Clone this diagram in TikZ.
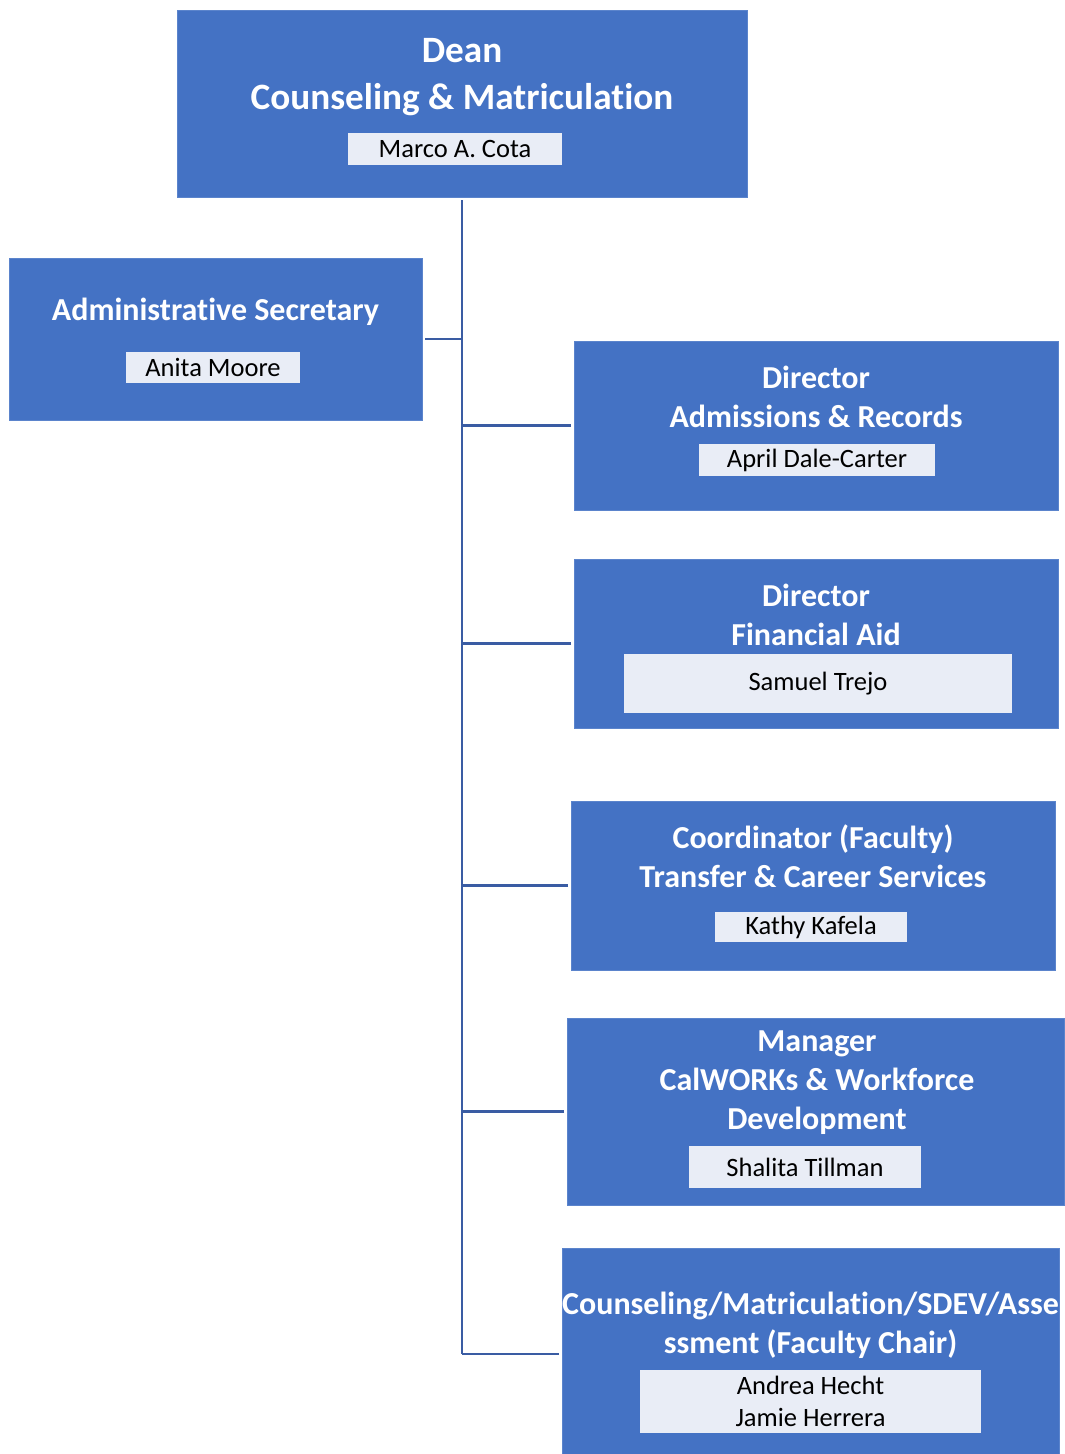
\documentclass[tikz,border=0pt]{standalone}
\usepackage{fontspec}
\setmainfont{Carlito}[Ligatures={NoCommon}]
\definecolor{boxblue}{HTML}{4472C4}
\definecolor{boxedge}{HTML}{5B84CC}
\definecolor{namefill}{HTML}{E9EDF6}
\definecolor{linkblue}{HTML}{3A5CA3}
\begin{document}
\begin{tikzpicture}[x=1pt,y=-1pt,
  box/.style={draw=boxedge, line width=1pt, fill=boxblue, inner sep=0pt, outer sep=0pt},
  title/.style={text=white, font=\bfseries\fontsize{32}{39}\selectfont, align=center, inner sep=0pt},
  bigtitle/.style={text=white, font=\bfseries\fontsize{37.2}{47}\selectfont, align=center, inner sep=0pt},
  namebox/.style={fill=namefill, draw=none, inner sep=0pt, font=\fontsize{26.5}{32}\selectfont, align=center, text=black},
  conn/.style={draw=linkblue, line width=2.6pt}]
\useasboundingbox[fill=white] (0,0) rectangle (1065,1454);
% boxes
\node[box, minimum width=570pt, minimum height=187pt] (dean) at (462,103.5) {};
\node[box, minimum width=413pt, minimum height=162pt] (adm) at (215.5,339) {};
\node[box, minimum width=484pt, minimum height=169pt] (ar) at (816,425.5) {};
\node[box, minimum width=484pt, minimum height=169pt] (fa) at (816,643.5) {};
\node[box, minimum width=484pt, minimum height=169pt] (co) at (813,885.5) {};
\node[box, minimum width=497pt, minimum height=187pt] (mg) at (815.5,1111.5) {};
\node[box, minimum width=497pt, minimum height=212pt] (ch) at (810.5,1354) {};
% titles
\node[bigtitle] (deant) at (462,77) {Dean\\Counseling \& Matriculation};
\node[title] (admt) at (215.5,312) {Administrative Secretary};
\node[title] (art) at (816,396.5) {Director\\Admissions \& Records};
\node[title] (fat) at (816,614.5) {Director\\Financial Aid};
\node[title] (cot) at (813,856.5) {Coordinator (Faculty)\\Transfer \& Career Services};
\node[title] (mgt) at (817,1083) {Manager\\CalWORKs \& Workforce\\Development};
\node[title] (cht) at (810.5,1325) {Counseling/Matriculation/SDEV/Asse\\ssment (Faculty Chair)};
% name boxes
\node[namebox, minimum width=214pt, minimum height=32pt] (deann) at (455,149) {\raisebox{-2pt}{Marco A. Cota}};
\node[namebox, minimum width=174pt, minimum height=31pt] (admn) at (213,367.5) {\raisebox{-2pt}{Anita Moore}};
\node[namebox, minimum width=236pt, minimum height=32pt] (arn) at (817,460) {\raisebox{-2pt}{April Dale-Carter}};
\node[namebox, minimum width=388pt, minimum height=59pt] (fan) at (818,683.5) {\raisebox{-2pt}{Samuel Trejo}};
\node[namebox, minimum width=192pt, minimum height=30pt] (con) at (811,927) {\raisebox{-2pt}{Kathy Kafela}};
\node[namebox, minimum width=232pt, minimum height=42pt] (mgn) at (805,1167) {\raisebox{-1pt}{Shalita Tillman}};
\node[namebox, minimum width=341pt, minimum height=63pt] (chn) at (810.5,1401.5) {Andrea Hecht\\Jamie Herrera};
% connectors
\coordinate (top) at (462,200);
\coordinate (bot) at (462,1354);
\draw[conn] (top) -- (bot);
\draw[conn] (adm.east) ++(3,0) -- (adm.east -| top);
\draw[conn] (ar.west) ++(-3,0) -- (ar.west -| top);
\draw[conn] (fa.west) ++(-3,0) -- (fa.west -| top);
\draw[conn] (co.west) ++(-3,0) -- (co.west -| top);
\draw[conn] (mg.west) ++(-3,0) -- (mg.west -| top);
\draw[conn] ([xshift=-3pt]ch.west |- bot) -- (bot);
\end{tikzpicture}
\end{document}
